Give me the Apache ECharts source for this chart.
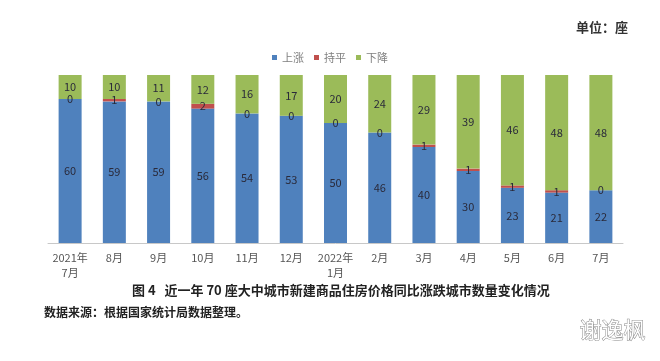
<!DOCTYPE html>
<html><head><meta charset="utf-8">
<script src="https://cdn.jsdelivr.net/npm/echarts@6/dist/echarts.min.js"></script>
<style>html,body{margin:0;padding:0;background:#fff}#c{width:660px;height:361px}</style>
</head><body><div id="c"></div>
<script>
var categories = ['2021年\n7月','8月','9月','10月','11月','12月','2022年\n1月','2月','3月','4月','5月','6月','7月'];
var rise = [60,59,59,56,54,53,50,46,40,30,23,21,22];
var flat = [0,1,0,2,0,0,0,0,1,1,1,1,0];
var fall = [10,10,11,12,16,17,20,24,29,39,46,48,48];
var seriesNames = ['上涨','持平','下降'];

var font = '"Noto Sans CJK SC","Noto Sans",sans-serif';
var chart = echarts.init(document.getElementById('c'));
function lbl(){ return {show:true, position:'inside', color:'#2a2a3a', fontSize:11, fontFamily:font}; }
chart.setOption({
  animation:false,
  textStyle:{fontFamily:font},
  grid:{left:48, right:37, top:75, bottom:118},
  legend:{top:47, left:'center', itemWidth:5, itemHeight:5, itemGap:10, icon:'rect',
    textStyle:{color:'#7f7f7f', fontSize:11, fontFamily:font}, data:seriesNames},
  graphic:[
    {type:'text', right:32, top:21, style:{text:'单位：座', fill:'#333', font:'bold 13px '+font}},
    {type:'text', left:132, top:284, style:{text:'图 4   近一年 70 座大中城市新建商品住房价格同比涨跌城市数量变化情况', fill:'#222', font:'bold 13px '+font}},
    {type:'text', left:44, top:306, style:{text:'数据来源：根据国家统计局数据整理。', fill:'#222', font:'bold 12px '+font}},
    {type:'text', left:579, top:318, style:{text:'谢逸枫', fill:'#fff', stroke:'#888', lineWidth:1, font:'22px '+font}}
  ],
  xAxis:{type:'category', data:categories,
    axisLine:{lineStyle:{color:'#c8c8c8'}}, axisTick:{show:false},
    axisLabel:{interval:0, color:'#555', fontSize:11, fontFamily:font, margin:7, lineHeight:15}},
  yAxis:{type:'value', min:0, max:70, show:false, splitLine:{show:false}},
  series:[
    {name:seriesNames[0], type:'bar', stack:'a', barWidth:'52%', data:rise, itemStyle:{color:'#4F81BD'}, label:lbl()},
    {name:seriesNames[1], type:'bar', stack:'a', data:flat, itemStyle:{color:'#C0504D'}, label:lbl()},
    {name:seriesNames[2], type:'bar', stack:'a', data:fall, itemStyle:{color:'#9BBB59'}, label:lbl()}
  ]
});
</script></body></html>
